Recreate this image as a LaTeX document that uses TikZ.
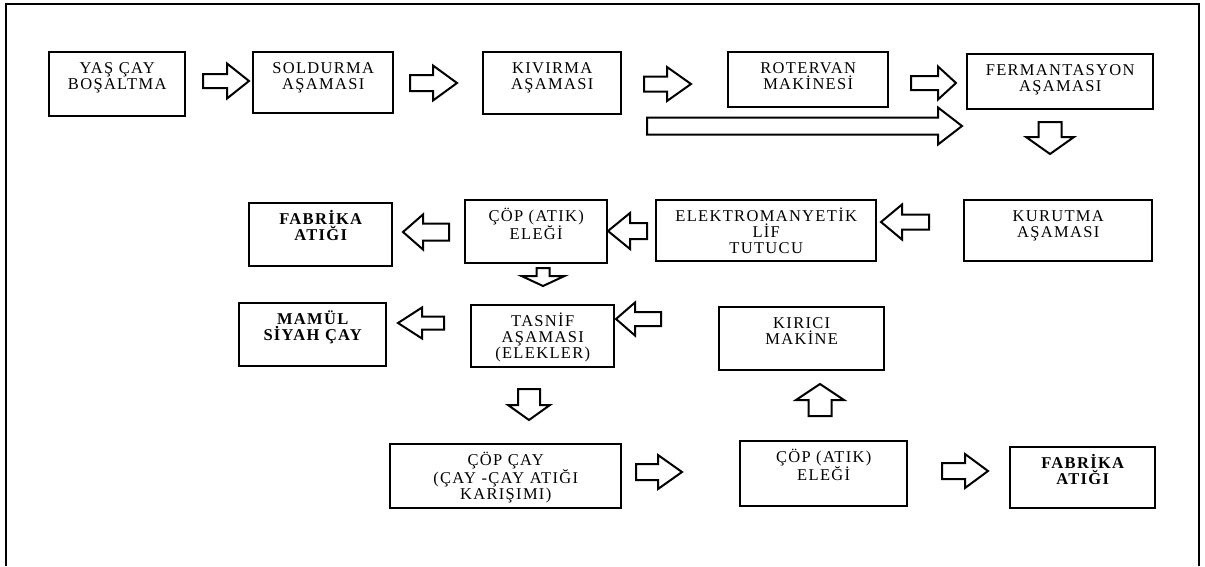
\documentclass[tikz,border=0pt]{standalone}
\usepackage{fontspec}
\setmainfont{Liberation Serif}[LetterSpace=8]

\tikzset{pics/blk/.style args={#1/#2/#3/#4}{code={%
  \draw[line width=2pt, fill=white] ({-#1/2},{-#3/2}) -- ({#1/2-#4},{-#3/2}) -- ({#1/2-#4},{-#2/2})
    -- ({#1/2},0) -- ({#1/2-#4},{#2/2}) -- ({#1/2-#4},{#3/2}) -- ({-#1/2},{#3/2}) -- cycle;}}}

\begin{document}
\begin{tikzpicture}[x=1pt, y=-1pt]
\tikzstyle{stage}=[draw, line width=2.4pt, inner sep=0pt, anchor=north west, align=center, text height=21pt, font=\fontsize{16.5}{16}\selectfont]
\tikzstyle{bstage}=[stage, font=\fontsize{16.5}{16}\selectfont\bfseries]

\useasboundingbox (0,0) rectangle (1205,566);
\draw[line width=1.2pt] (6,566) -- (6,4) -- (1199,4) -- (1199,566);

% first row
\node[stage, text width=136pt, text depth=43pt] (yas) at (48,51) {YAŞ ÇAY\\BOŞALTMA};
\node[stage, text width=140pt, text depth=40pt] (sol) at (252,51) {SOLDURMA\\AŞAMASI};
\node[stage, text width=138pt, text depth=41pt] (kiv) at (482,51) {KIVIRMA\\AŞAMASI};
\node[stage, text width=160pt, text depth=34pt] (rot) at (727,51) {ROTERVAN\\MAKİNESİ};
\node[stage, text width=186pt, text depth=34pt] (fer) at (966,53) {FERMANTASYON\\AŞAMASI};

\pic (a1) at (226,81) {blk=46/35/14/22};
\pic (a2) at (433.5,83) {blk=47/35/16/24};
\pic (a3) at (667.5,84) {blk=47/34/15/24};
\pic (a4) at (933.5,83) {blk=45/33/14/18};
\pic (a5) at (804.5,126) {blk=315/37/17/24};
\pic[rotate=-90] (d1) at (1050,138) {blk=32/48/23/17};

% second row
\node[bstage, text width=143pt, text depth=42pt] (fab) at (248,202) {FABRİKA\\ATIĞI};
\node[stage, text width=142pt, text depth=42pt] (cop) at (464,199) {ÇÖP (ATIK)\\ELEĞİ};
\node[stage, text width=220pt, text depth=40pt] (ele) at (655,199) {ELEKTROMANYETİK\\LİF\\TUTUCU};
\node[stage, text width=188pt, text depth=40pt] (kur) at (963,199) {KURUTMA\\AŞAMASI};

\pic[rotate=180] (l1) at (905,222) {blk=48/35/15/21};
\pic[rotate=180] (l2) at (627.5,231) {blk=39/36/16/22};
\pic[rotate=180] (l3) at (426,232) {blk=46/35/17/20};
\pic[rotate=-90] (d2) at (543,277) {blk=18/43/13/10};

% third row
\node[bstage, text width=147pt, text depth=42pt] (mam) at (238,302) {MAMÜL\\SİYAH ÇAY};
\node[stage, text width=143pt, text depth=41pt] (tas) at (470,304) {TASNİF\\AŞAMASI\\(ELEKLER)};
\node[stage, text width=165pt, text depth=42pt] (kir) at (718,306) {KIRICI\\MAKİNE};

\pic[rotate=180] (l4) at (421,323) {blk=46/31/13/24};
\pic[rotate=180] (l5) at (638.5,319) {blk=45/33/14/19};
\pic[rotate=-90] (d3) at (529,404.5) {blk=31/42/22/15};

% last row
\node[stage, text width=231pt, text depth=43pt] (cay) at (389,443) {ÇÖP ÇAY\\(ÇAY -ÇAY ATIĞI\\KARIŞIMI)};
\node[stage, text width=167pt, text depth=44pt] (cop2) at (739,440) {ÇÖP (ATIK)\\ELEĞİ};
\node[bstage, text width=145pt, text depth=40pt] (fab2) at (1009,446) {FABRİKA\\ATIĞI};

\pic (r1) at (659,472) {blk=46/34/16/24};
\pic[rotate=90] (u1) at (820,400) {blk=32/48/23/16};
\pic (r2) at (965,471) {blk=46/34/16/23};
\end{tikzpicture}
\end{document}
